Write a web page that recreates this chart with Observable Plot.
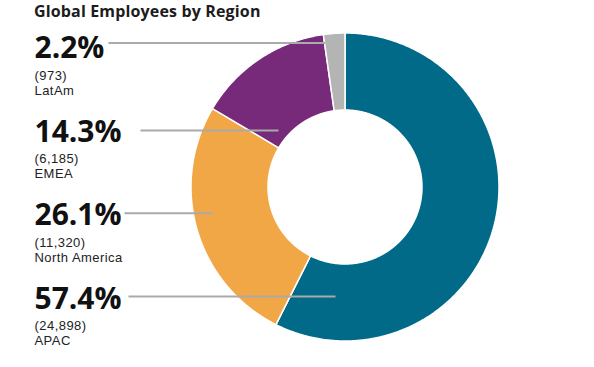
<!DOCTYPE html>
<html><head><meta charset="utf-8">
<script src="https://cdn.jsdelivr.net/npm/d3@7"></script>
<script src="https://cdn.jsdelivr.net/npm/@observablehq/plot@0.6"></script>
<style>
body{margin:0;background:#fff;width:594px;height:367px;overflow:hidden;position:relative}
#title{position:absolute;left:34px;top:0;font-family:"Open Sans";font-weight:bold;font-size:16px;letter-spacing:0.15px;line-height:22px;color:#1c1c1c;white-space:nowrap}
#chart{position:absolute;left:0;top:22px}
.small text, .small tspan{letter-spacing:0.45px}
</style></head><body>
<div id="title">Global Employees by Region</div>
<div id="chart"></div>
<script>
// ---- data ----
const regions = ["APAC", "North America", "EMEA", "LatAm"];
const employees = [24898, 11320, 6185, 973];
const percents = [57.4, 26.1, 14.3, 2.2];

// ---- styles ----
const colors = ["#016a89", "#f2a747", "#77297a", "#b4b4b4"];

// ---- layout (svg pixels) ----
const W = 594, H = 345;
const cx = 345, cy = 165, R = 154, r0 = 77;
const labelX = 34;
const pctBaseline = [286, 202, 119, 35];      // per region
const nameBaseline = [322.3, 239.7, 155.3, 72.3];
const leaderY = [274, 190.7, 108, 20.5];
const leaderX1 = [128, 124, 140, 108];
const leaderX2 = [335, 212, 278, 325];

const total = d3.sum(employees);
let cum = 0;
const pts = [];
regions.forEach((reg, i) => {
  const a0 = cum / total * 2 * Math.PI;
  cum += employees[i];
  const a1 = cum / total * 2 * Math.PI;
  const n = Math.max(2, Math.ceil((a1 - a0) / (Math.PI / 360)));
  for (let k = 0; k <= n; k++) {
    const t = a0 + (a1 - a0) * k / n;
    pts.push({
      region: reg,
      xo: cx + R * Math.sin(t), yo: cy - R * Math.cos(t),
      xi: cx + r0 * Math.sin(t), yi: cy - r0 * Math.cos(t)
    });
  }
});

const rows = regions.map((reg, i) => ({
  region: reg, n: employees[i], pct: percents[i],
  pY: pctBaseline[i], nY: nameBaseline[i],
  lY: leaderY[i], lx1: leaderX1[i], lx2: leaderX2[i]
}));

const fmt = d3.format(",");
const chart = Plot.plot({
  width: W, height: H,
  margin: 0,
  x: {domain: [0, W], range: [0, W], axis: null},
  y: {domain: [0, H], range: [0, H], axis: null},
  color: {type: "ordinal", domain: regions, range: colors},
  style: {fontFamily: "Open Sans", background: "#fff"},
  marks: [
    Plot.area(pts, {x1: "xo", y1: "yo", x2: "xi", y2: "yi", z: "region", fill: "region", stroke: "#fff", strokeWidth: 1.5}),
    Plot.link(rows, {x1: "lx1", y1: "lY", x2: "lx2", y2: "lY", stroke: "#aaaaaa", strokeWidth: 2}),
    Plot.text(rows, {x: () => labelX, y: "pY", text: d => d.pct.toFixed(1) + "%", textAnchor: "start", lineAnchor: "bottom", fontSize: 30, fontWeight: "bold", fill: "#111", fontFamily: "Open Sans"}),
    Plot.text(rows, {x: () => labelX, y: "nY", text: d => "(" + fmt(d.n) + ")\n" + d.region, textAnchor: "start", lineAnchor: "bottom", lineHeight: 1.14, fontSize: 13, fill: "#222", fontFamily: "Liberation Sans", className: "small"})
  ]
});
document.getElementById("chart").appendChild(chart);
</script>
</body></html>
